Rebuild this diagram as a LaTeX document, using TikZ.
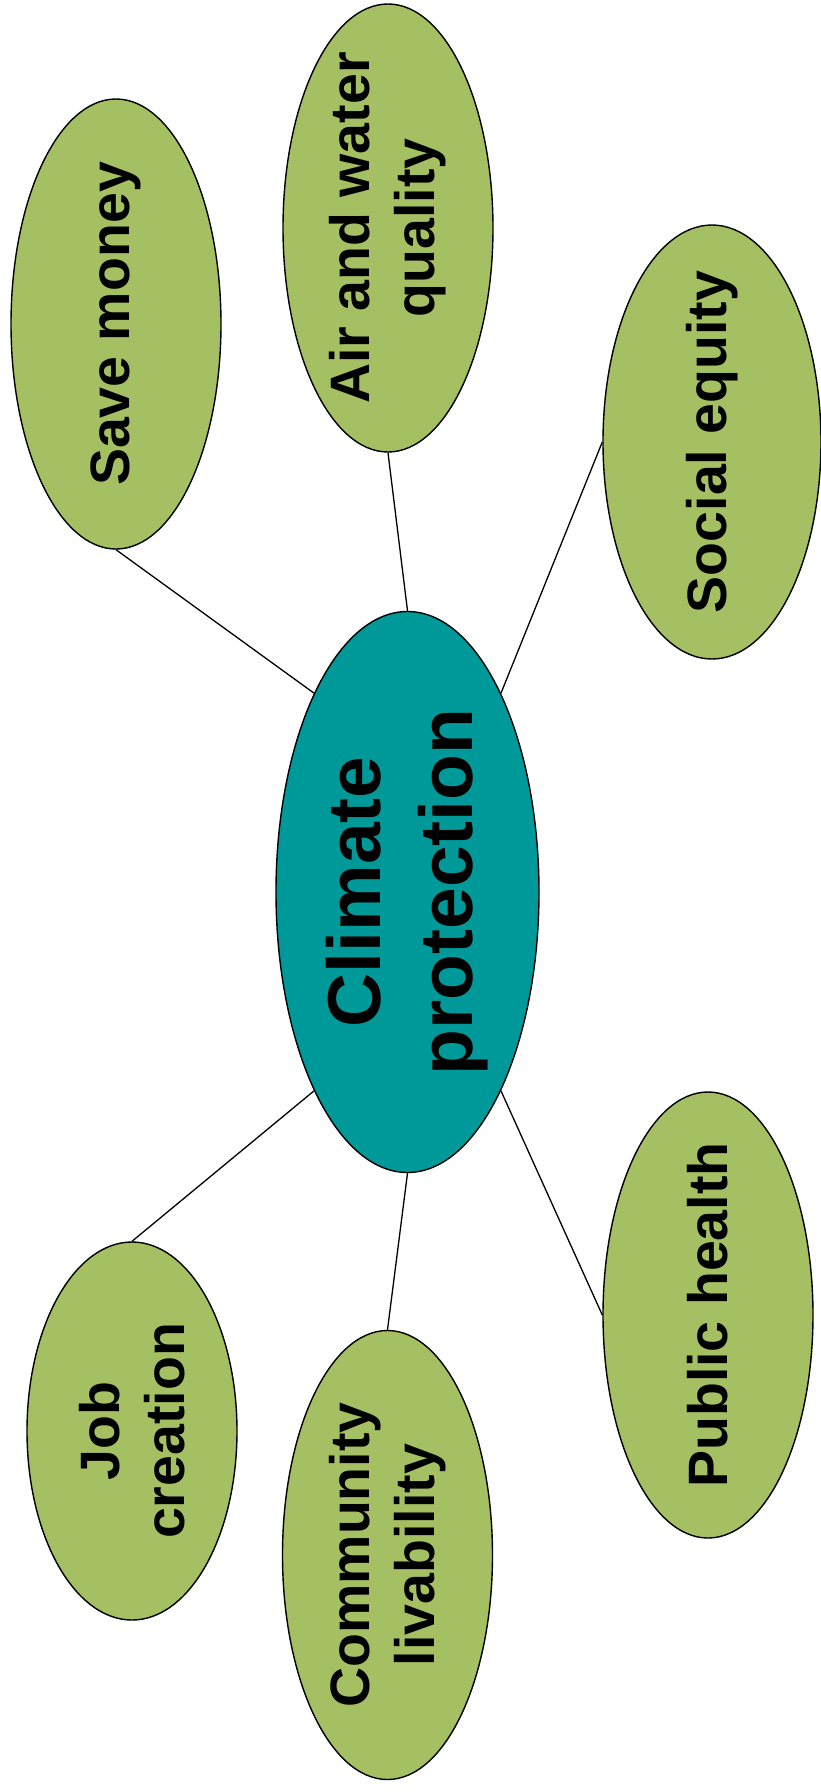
\documentclass[tikz,border=0pt]{standalone}
\usepackage{fontspec}
\setmainfont{Liberation Sans}
\usetikzlibrary{shapes.geometric}
\definecolor{leaf}{RGB}{164,192,98}
\definecolor{tealhub}{RGB}{0,153,153}
\begin{document}
\begin{tikzpicture}[x=1pt,y=-1pt,
  bub/.style={ellipse, draw=black, line width=1.4pt, fill=leaf, inner sep=0pt},
  hub/.style={ellipse, draw=black, line width=1.4pt, fill=tealhub, inner sep=0pt},
  lab/.style={rotate=90, align=center, inner sep=0pt, font=\fontsize{55.5}{65}\selectfont\bfseries},
  hublab/.style={rotate=90, align=center, inner sep=0pt, font=\fontsize{75}{92}\selectfont\bfseries},
  link/.style={draw=black, line width=1.3pt}]
\useasboundingbox (0,0) rectangle (821,1792);
\fill[white] (0,0) rectangle (821,1792);

\node[hub, minimum width=263, minimum height=561] (cp) at (407.5,892) {};
\node[bub, minimum width=210, minimum height=450] (sm) at (116,324) {};
\node[bub, minimum width=210, minimum height=448] (aw) at (388,228) {};
\node[bub, minimum width=218, minimum height=434] (se) at (712,442) {};
\node[bub, minimum width=210, minimum height=446] (ph) at (708,1315) {};
\node[bub, minimum width=210, minimum height=449] (cl) at (387.5,1555) {};
\node[bub, minimum width=210, minimum height=378] (jc) at (132,1431) {};

\draw[link] (sm.south) -- (cp.north west);
\draw[link] (aw.south) -- (cp.north);
\draw[link] (se.west) -- (cp.north east);
\draw[link] (jc.north) -- (cp.south west);
\draw[link] (cl.north) -- (cp.south);
\draw[link] (ph.west) -- (cp.south east);

\node[hublab] (cpt) at (cp) {Climate\\protection};
\node[lab] (smt) at (sm) {Save money};
\node[lab] (awt) at (aw) {Air and water\\quality};
\node[lab] (set) at (se) {Social equity};
\node[lab] (pht) at (ph) {Public health};
\node[lab] (clt) at (cl) {Community\\livability};
\node[lab] (jct) at (jc) {Job\\creation};
\end{tikzpicture}
\end{document}
